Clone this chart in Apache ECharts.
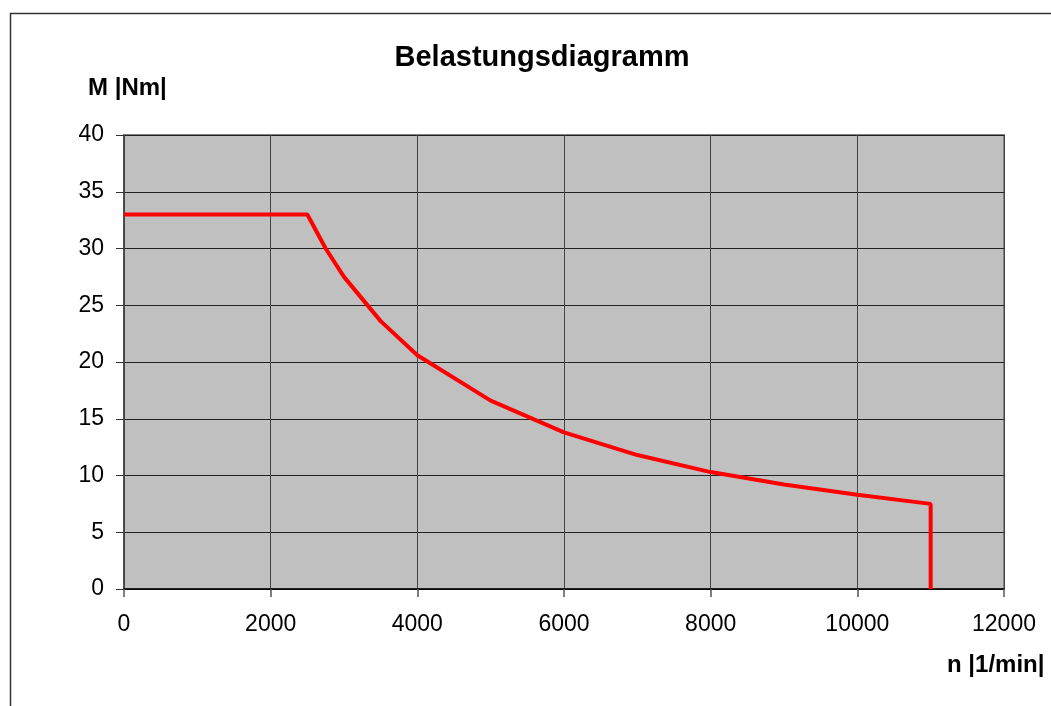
<!DOCTYPE html>
<html><head><meta charset="utf-8">
<script src="https://cdn.jsdelivr.net/npm/echarts@6/dist/echarts.min.js"></script>
<style>html,body{margin:0;padding:0;background:#fff}#c{width:1051px;height:706px}</style>
</head><body><div id="c"></div>
<script>
const speed = [0, 2500, 2750, 3000, 3500, 4000, 5000, 6000, 7000, 8000, 9000, 10000, 11000, 11000];
const torque = [33, 33, 30, 27.5, 23.6, 20.6, 16.6, 13.8, 11.8, 10.3, 9.2, 8.3, 7.5, 0];
const titleText = 'Belastungsdiagramm';
const yName = 'M |Nm|';
const xName = 'n |1/min|';

const chart = echarts.init(document.getElementById('c'));
const font = 'Liberation Sans, Arial, sans-serif';
chart.setOption({
  animation: false,
  title: { text: titleText, left: 537, top: 38, textAlign: 'center',
    textStyle: { fontFamily: font, fontSize: 29, fontWeight: 'bold', color: '#000' } },
  graphic: [
    { type: 'rect', shape: { x: 10.5, y: 13.5, width: 1100, height: 800 },
      style: { fill: 'none', stroke: '#333', lineWidth: 1.5 }, silent: true, z: -10 },
    { type: 'text', left: 88, top: 76, style: { text: yName, fontFamily: font, fontSize: 24, fontWeight: 'bold', fill: '#000' } },
    { type: 'text', left: 947, top: 653, style: { text: xName, fontFamily: font, fontSize: 24, fontWeight: 'bold', fill: '#000' } }
  ],
  grid: { left: 124, right: 47, top: 135, bottom: 117, show: true,
    backgroundColor: '#c0c0c0', borderColor: '#808080', borderWidth: 2 },
  xAxis: { type: 'value', min: 0, max: 12000, interval: 2000,
    axisLine: { lineStyle: { color: '#000', width: 1.5 } },
    axisTick: { show: true, length: 8, lineStyle: { color: '#555', width: 1.5 } },
    axisLabel: { fontFamily: font, fontSize: 23, color: '#000', margin: 24, formatter: v => String(v) },
    splitLine: { show: true, lineStyle: { color: '#444', width: 1 } } },
  yAxis: { type: 'value', min: 0, max: 40, interval: 5,
    axisLine: { show: true, lineStyle: { color: '#444', width: 1.5 } },
    axisTick: { show: true, length: 8, lineStyle: { color: '#333', width: 1 } },
    axisLabel: { fontFamily: font, fontSize: 23, color: '#000', margin: 20 },
    splitLine: { show: true, lineStyle: { color: '#222', width: 1 } } },
  series: [{ type: 'line', data: speed.map((s, i) => [s, torque[i]]),
    showSymbol: false, lineStyle: { color: '#ff0000', width: 4 }, z: 5 }]
});
</script></body></html>
